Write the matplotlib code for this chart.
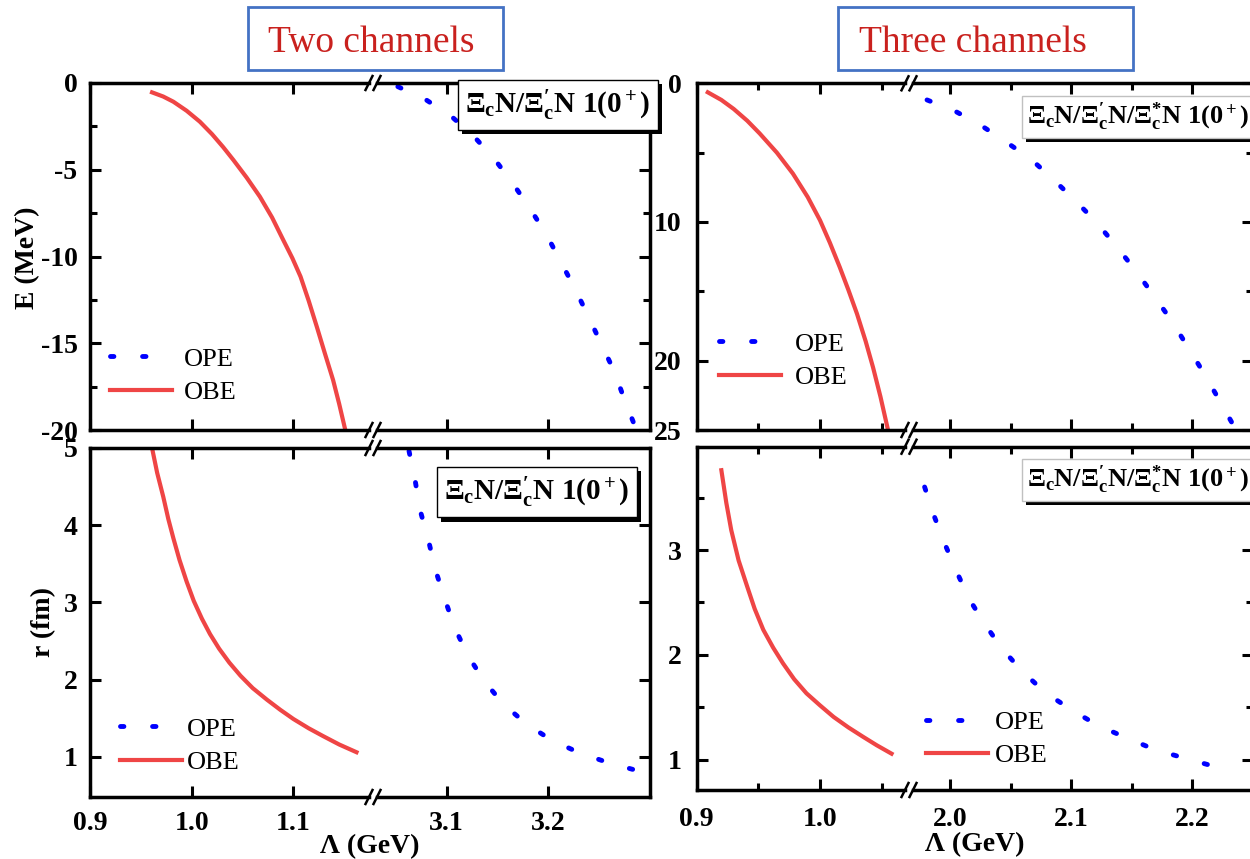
import matplotlib.pyplot as plt
import matplotlib.patheffects as pe
from matplotlib.lines import Line2D
from matplotlib.patches import Rectangle
from matplotlib.ticker import FixedLocator

W, H = 1250, 859

# ---- two channels: binding energy E (MeV) vs cutoff (GeV)
lam_obe_e2 = [0.961, 0.972, 0.982, 0.995, 1.008, 1.020, 1.031, 1.041, 1.054, 1.067,
              1.079, 1.090, 1.099, 1.107, 1.115, 1.123, 1.131, 1.139, 1.145, 1.151]
e_obe2 = [-0.54, -0.78, -1.08, -1.60, -2.23, -2.95, -3.70, -4.44, -5.45, -6.55,
          -7.75, -9.05, -10.10, -11.16, -12.55, -14.05, -15.60, -17.12, -18.50, -20.0]
lam_ope_e2 = [3.052, 3.079, 3.105, 3.127, 3.147, 3.165, 3.182, 3.198, 3.212, 3.226, 3.239, 3.252, 3.265, 3.275, 3.286]
e_ope2 = [-0.21, -0.94, -1.94, -3.09, -4.38, -5.78, -7.24, -8.72, -10.28, -11.83, -13.41, -15.03, -16.64, -18.27, -19.9]

# ---- two channels: rms radius r (fm)
lam_obe_r2 = [0.961, 0.966, 0.972, 0.977, 0.982, 0.988, 0.995, 1.002, 1.010, 1.018, 1.027,
              1.037, 1.048, 1.060, 1.074, 1.087, 1.100, 1.115, 1.129, 1.145, 1.162]
r_obe2 = [5.0, 4.68, 4.37, 4.08, 3.83, 3.55, 3.27, 3.02, 2.79, 2.59, 2.40,
          2.22, 2.05, 1.89, 1.74, 1.61, 1.49, 1.37, 1.27, 1.16, 1.06]
lam_ope_r2 = [3.063, 3.069, 3.074, 3.082, 3.089, 3.098, 3.108, 3.121, 3.137, 3.156, 3.179, 3.204, 3.231, 3.260, 3.288]
r_ope2 = [4.96, 4.58, 4.19, 3.81, 3.42, 3.05, 2.67, 2.31, 1.98, 1.68, 1.42, 1.21, 1.05, 0.92, 0.82]

# ---- three channels: E
lam_obe_e3 = [0.909, 0.920, 0.930, 0.941, 0.951, 0.965, 0.978, 0.990, 1.000,
              1.008, 1.016, 1.023, 1.030, 1.037, 1.043, 1.049, 1.055]
e_obe3 = [-0.65, -1.20, -1.85, -2.70, -3.61, -5.00, -6.51, -8.20, -9.88,
          -11.50, -13.26, -14.90, -16.63, -18.60, -20.49, -22.60, -24.95]
lam_ope_e3 = [1.981, 2.004, 2.025, 2.046, 2.067, 2.085, 2.103, 2.121, 2.137, 2.153, 2.168, 2.183, 2.196, 2.209, 2.222, 2.234, 2.237]
e_ope3 = [-1.20, -2.00, -3.00, -4.21, -5.48, -6.90, -8.41, -10.02, -11.70, -13.46, -15.26, -17.11, -18.94, -20.79, -22.76, -24.63, -25.0]

# ---- three channels: r
lam_obe_r3 = [0.920, 0.924, 0.928, 0.934, 0.941, 0.947, 0.954, 0.962, 0.970,
              0.979, 0.989, 1.000, 1.011, 1.023, 1.035, 1.046, 1.058]
r_obe3 = [3.76, 3.45, 3.19, 2.90, 2.65, 2.44, 2.24, 2.07, 1.92,
          1.77, 1.635, 1.52, 1.41, 1.31, 1.22, 1.14, 1.06]
lam_ope_r3 = [1.979, 1.987, 1.996, 2.006, 2.016, 2.029, 2.043, 2.060, 2.079, 2.100, 2.122, 2.146, 2.169, 2.193, 2.218]
r_ope3 = [3.60, 3.32, 3.05, 2.78, 2.53, 2.29, 2.06, 1.84, 1.64, 1.48, 1.33, 1.21, 1.10, 1.02, 0.94]

labels = ['OPE', 'OBE']
e_ticks2 = [0, -5, -10, -15, -20]
e_ticks3 = [0, -10, -20, -25]
e_ticklabels3 = ['0', '10', '20', '25']

RED = '#ef4545'
BLUE = '#0000ff'
DOT = (0, (0.7, 5.9))

plt.rcParams['font.family'] = ['Liberation Serif', 'DejaVu Serif']
plt.rcParams['font.weight'] = 'bold'
plt.rcParams['axes.unicode_minus'] = False
plt.rcParams['mathtext.fontset'] = 'custom'
plt.rcParams['mathtext.rm'] = 'Liberation Serif'
plt.rcParams['mathtext.bf'] = 'Liberation Serif:bold'
plt.rcParams['mathtext.it'] = 'Liberation Serif:italic'

fig = plt.figure(figsize=(12.5, 8.59), dpi=100)


def rect(x0, y0, x1, y1):
    return [x0 / W, 1 - y1 / H, (x1 - x0) / W, (y1 - y0) / H]


def slash(x, y):
    fig.add_artist(Line2D([(x - 3.5) / W, (x + 3.5) / W], [1 - (y + 7) / H, 1 - (y - 7) / H],
                          transform=fig.transFigure, color='black', lw=1.8))


def make_row(xs, ytop, ybot, lims, xmaj, xmin, tpad):
    x0, xb1, xb2, x1 = xs
    a1 = fig.add_axes(rect(x0, ytop, xb1, ybot))
    a2 = fig.add_axes(rect(xb2, ytop, x1, ybot), sharey=a1)
    a1.set_xlim(lims[0])
    a2.set_xlim(lims[1])
    a1.spines['right'].set_visible(False)
    a2.spines['left'].set_visible(False)
    for ax, mj, mn in ((a1, xmaj[0], xmin[0]), (a2, xmaj[1], xmin[1])):
        for s in ax.spines.values():
            s.set_linewidth(2.5)
        ax.xaxis.set_major_locator(FixedLocator(mj))
        ax.xaxis.set_minor_locator(FixedLocator(mn))
        ax.tick_params(which='both', direction='in', width=2.2, top=True, labelsize=20)
        ax.tick_params(which='major', length=8)
        ax.tick_params(which='minor', length=5)
        ax.tick_params(axis='x', pad=tpad[0])
        ax.tick_params(axis='y', pad=tpad[1])
    a1.tick_params(axis='y', which='both', left=True, right=False)
    a2.tick_params(axis='y', which='both', left=False, right=True, labelleft=False)
    for y in (ytop, ybot):
        slash(xb1, y)
        slash(xb2, y)
    return a1, a2


def add_legend(ax, x, y, tpad):
    h = [Line2D([], [], color=BLUE, lw=3.5, ls=DOT, dash_capstyle='round'),
         Line2D([], [], color=RED, lw=3)]
    ax.legend(h, labels, loc='center left', bbox_to_anchor=(x / W, 1 - y / H),
              bbox_transform=fig.transFigure, frameon=False, borderpad=0,
              borderaxespad=0, handlelength=2.35, handletextpad=tpad,
              labelspacing=0.37, prop={'size': 19, 'weight': 'normal'})


def tag(x, y, s, ec, ha='center', size=21, pad=0.18):
    t = fig.text(x / W, 1 - y / H, s, ha=ha, va='center', fontsize=size, fontweight='bold',
                 bbox=dict(boxstyle=f'square,pad={pad}', fc='white', ec=ec, lw=1))
    t.get_bbox_patch().set_path_effects(
        [pe.withSimplePatchShadow(offset=(3, -3), shadow_rgbFace='black', alpha=1.0)])


# ================= two channels =================
xsL = (90, 369, 377, 650)
limsL = ((0.9, 1.1743), (3.0315, 3.3))
a, b = make_row(xsL, 83, 430, limsL, ([0.9, 1.0, 1.1], [3.1, 3.2]), ([], []), (9, 9))
a.plot(lam_obe_e2, e_obe2, color=RED, lw=3)
b.plot(lam_ope_e2, e_ope2, color=BLUE, lw=3.5, ls=DOT, dash_capstyle='round')
a.set_ylim(-20, 0)
a.yaxis.set_major_locator(FixedLocator(e_ticks2))
a.yaxis.set_minor_locator(FixedLocator([-2.5, -7.5, -12.5, -17.5]))
a.tick_params(axis='x', labelbottom=False)
b.tick_params(axis='x', labelbottom=False)
add_legend(a, 110, 375.5, 0.45)

a, b = make_row(xsL, 448, 797, limsL, ([0.9, 1.0, 1.1], [3.1, 3.2]), ([], []), (10, 9))
a.plot(lam_obe_r2, r_obe2, color=RED, lw=3)
b.plot(lam_ope_r2, r_ope2, color=BLUE, lw=3.5, ls=DOT, dash_capstyle='round')
a.set_ylim(0.48, 5)
a.yaxis.set_major_locator(FixedLocator([1, 2, 3, 4, 5]))
a.yaxis.set_minor_locator(FixedLocator([]))
add_legend(a, 120, 745.5, 0.2)

# ================= three channels =================
xsR = (696.7, 905, 913, 1252.5)
limsR = ((0.9, 1.0689), (1.9694, 2.25))
majR = ([0.9, 1.0], [2.0, 2.1, 2.2])
minR = ([0.95, 1.05], [2.05, 2.15])
a, b = make_row(xsR, 83.3, 430, limsR, majR, minR, (12, 11))
a.plot(lam_obe_e3, e_obe3, color=RED, lw=3)
b.plot(lam_ope_e3, e_ope3, color=BLUE, lw=3.5, ls=DOT, dash_capstyle='round')
a.set_ylim(-25, 0)
a.yaxis.set_major_locator(FixedLocator(e_ticks3))
a.set_yticklabels(e_ticklabels3)
a.yaxis.set_minor_locator(FixedLocator([-5, -15]))
a.tick_params(axis='x', labelbottom=False)
b.tick_params(axis='x', labelbottom=False)
add_legend(a, 719, 360.5, 0.52)

a, b = make_row(xsR, 446.7, 790, limsR, majR, minR, (12, 11))
a.plot(lam_obe_r3, r_obe3, color=RED, lw=3)
b.plot(lam_ope_r3, r_ope3, color=BLUE, lw=3.5, ls=DOT, dash_capstyle='round')
a.set_ylim(0.714, 3.984)
a.yaxis.set_major_locator(FixedLocator([1, 2, 3]))
a.yaxis.set_minor_locator(FixedLocator([1.5, 2.5, 3.5]))
add_legend(b, 926, 739, 0.25)

# ================= labels and boxes =================
fig.text(27.5 / W, 1 - 258 / H, 'E (MeV)', rotation=90, ha='center', va='center', fontsize=20)
fig.text(44 / W, 1 - 622 / H, 'r (fm)', rotation=90, ha='center', va='center', fontsize=20)
fig.text(370 / W, 1 - 847 / H, 'Λ (GeV)', ha='center', va='center', fontsize=20)
fig.text(975 / W, 1 - 845 / H, 'Λ (GeV)', ha='center', va='center', fontsize=20)

tag(558, 105, r'$\mathbf{\Xi_c N/\Xi_c^{\prime} N\ 1(0^+)}$', 'black', pad=0.26)
tag(537, 492, r'$\mathbf{\Xi_c N/\Xi_c^{\prime} N\ 1(0^+)}$', 'black', pad=0.26)
tag(1027, 117, r'$\mathbf{\Xi_c N/\Xi_c^{\prime} N/\Xi_c^{*} N\ 1(0^+)}$', '#c0c0c0', ha='left', size=19)
tag(1027, 480, r'$\mathbf{\Xi_c N/\Xi_c^{\prime} N/\Xi_c^{*} N\ 1(0^+)}$', '#c0c0c0', ha='left', size=19)

for (x0, x1, cx, s) in ((248.3, 503.3, 370.8, 'Two channels'), (838.3, 1133.3, 973.3, 'Three channels')):
    fig.add_artist(Rectangle((x0 / W, 1 - 70 / H), (x1 - x0) / W, 63.3 / H,
                             transform=fig.transFigure, fill=False, ec='#4472c4', lw=2))
    fig.text(cx / W, 1 - 51.7 / H, s, ha='center', va='baseline', fontsize=27,
             fontweight='normal', color='#c9211e')

fig.savefig('out.png', dpi=100, facecolor='white')
